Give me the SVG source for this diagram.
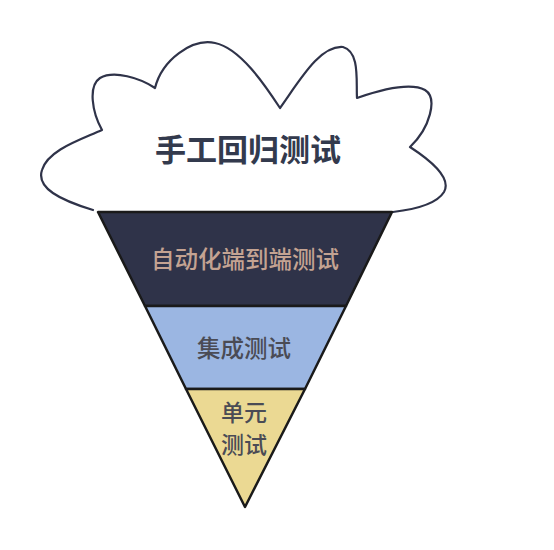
<svg xmlns="http://www.w3.org/2000/svg" width="554" height="550" viewBox="0 0 554 550">
<style>
.cloud{fill:#ffffff;stroke:#2f3349;stroke-width:2.2;stroke-linecap:round;stroke-linejoin:round}
.layer{stroke:#1a1a1a;stroke-width:2.5;stroke-linejoin:round}
text{font-family:"Noto Sans CJK SC","Noto Sans",sans-serif;font-weight:500;text-anchor:middle}
text.title{font-weight:bold}
</style>
<rect width="554" height="550" fill="#ffffff"/>
<g id="cloud">
<path class="cloud" d="M93,210 C60,200 36,188 42,170 C48,150 80,140 102,130 C92,112 88,86 100,78 C114,70 140,78 155,88 C162,60 192,38 215,43 C240,48 265,85 280,108 C300,80 320,45 343,47 C360,52 356,80 357,98 C380,90 410,82 425,90 C438,98 430,128 410,147 C430,160 452,178 444,192 C436,205 410,210 393,212"/>
<text class="title" x="248" y="161" font-size="31" fill="#333a4d">手工回归测试</text>
</g>
<g id="e2e">
<polygon class="layer" points="98,212 392,212 346,306 145,306" fill="#2f3349"/>
<text x="245" y="268" font-size="23.5" fill="#c4a392">自动化端到端测试</text>
</g>
<g id="integration">
<polygon class="layer" points="145,306 346,306 305,389 186,389" fill="#9bb6e2"/>
<text x="244" y="357" font-size="23.5" fill="#4a4b55">集成测试</text>
</g>
<g id="unit">
<polygon class="layer" points="186,389 305,389 245,507" fill="#ebd993"/>
<text x="244" y="421" font-size="23" fill="#4a4b55">单元</text>
<text x="244" y="453" font-size="23" fill="#4a4b55">测试</text>
</g>
</svg>
